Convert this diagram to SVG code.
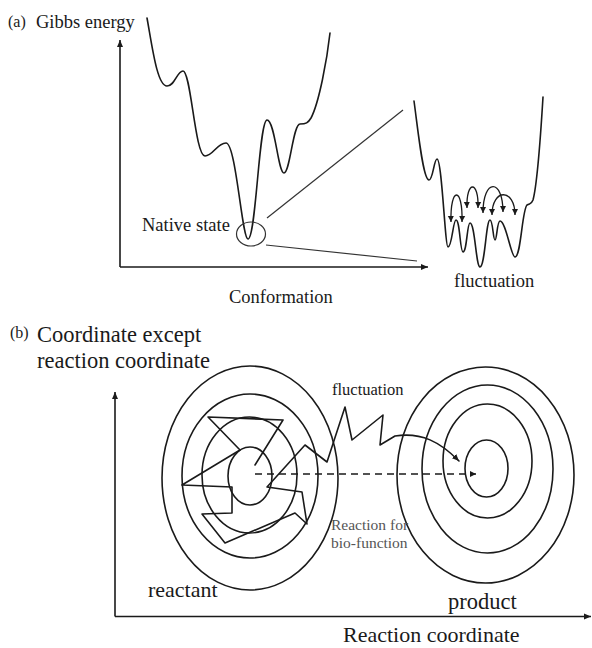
<svg xmlns="http://www.w3.org/2000/svg" width="592" height="648" viewBox="0 0 592 648">
<style>
.ln{fill:none;stroke:#1a1a1a;stroke-width:1.6;stroke-linejoin:round;stroke-linecap:round}
.thin{fill:none;stroke:#333;stroke-width:1.2}
.ax{fill:none;stroke:#1a1a1a;stroke-width:1.6}
.t{font-family:"Liberation Serif","Times New Roman",serif;fill:#1a1a1a}
.g{fill:#555}
</style>
<defs>
<marker id="ah" markerWidth="8" markerHeight="8" refX="7" refY="4" orient="auto" markerUnits="userSpaceOnUse"><path d="M0,1 L7,4 L0,7 Z" fill="#1a1a1a"/></marker>
<marker id="sh" markerWidth="7" markerHeight="7" refX="6" refY="3.5" orient="auto-start-reverse" markerUnits="userSpaceOnUse"><path d="M0,0.5 L6,3.5 L0,6.5 Z" fill="#1a1a1a"/></marker>
</defs>

<g id="panel-a" font-family="'Liberation Serif','Times New Roman',serif">
<text class="t" x="8" y="27" font-size="16">(a)</text>
<text class="t" x="36" y="28" font-size="18.5">Gibbs energy</text>
<g id="axes-a">
<line class="ax" x1="120" y1="267" x2="120" y2="40" marker-end="url(#ah)"/>
<line class="ax" x1="120" y1="267" x2="428" y2="267" marker-end="url(#ah)"/>
</g>
<path id="landscape" class="ln" d="M147,18 C152,45 157,86 167,86 C175,86 177,71 183,71 C191,71 195,156 205,156 C213,156 217,143 226,143 C236,143 242,239 248,239 C256,239 259,120 267,120 C275,120 278,173 284,173 C290,173 293,124 300,124 C306,124 308,123 311,118 C319,103 327,60 330,33"/>
<g id="native-state">
<ellipse class="thin" cx="251" cy="234" rx="14.5" ry="12"/>
<text class="t" x="142" y="231" font-size="18.5">Native state</text>
</g>
<g id="zoom-lines">
<line class="thin" x1="267" y1="218" x2="403" y2="110"/>
<line class="thin" x1="266" y1="245" x2="417" y2="261"/>
</g>
<text class="t" x="229" y="303" font-size="18.5">Conformation</text>
<path id="fluct-landscape" class="ln" d="M414,101 C418,130 423,180 429,180 C433,180 434,159 437,159 C442,159 445,247 448,247 C452,247 453,220 456,220 C460,220 460,252 463,252 C467,252 467,223 470,223 C475,223 476,267 480,267 C485,267 486,220 490,220 C493,220 493,240 495,240 C497,240 497,221 500,221 C506,221 511,257 515,257 C521,257 522,210 527,205 C530,203 531,205 533,200 C537,185 541,130 543,97"/>
<g id="fluct-arcs" fill="none" stroke="#1a1a1a" stroke-width="1.3">
<path d="M451,222 C450,186 463,186 462,222" marker-start="url(#sh)" marker-end="url(#sh)"/>
<path d="M467,208 C466,180 479,180 478,208" marker-start="url(#sh)" marker-end="url(#sh)"/>
<path d="M483,213 C483,178 503,178 503,212" marker-start="url(#sh)" marker-end="url(#sh)"/>
<path d="M492,215 C492,188 515,188 515,215" marker-start="url(#sh)" marker-end="url(#sh)"/>
</g>
<text class="t" x="454" y="287" font-size="18.5">fluctuation</text>
</g>

<g id="panel-b" font-family="'Liberation Serif','Times New Roman',serif">
<text class="t" x="10" y="338" font-size="16">(b)</text>
<text class="t" x="37" y="342" font-size="22.5">Coordinate except</text>
<text class="t" x="37" y="368" font-size="22.5">reaction coordinate</text>
<g id="axes-b">
<line class="ax" x1="115" y1="616.5" x2="115" y2="392" marker-end="url(#ah)"/>
<line class="ax" x1="115" y1="616.5" x2="591" y2="616.5" marker-end="url(#ah)"/>
</g>
<g id="reactant">
<ellipse class="ln" cx="250" cy="478" rx="88" ry="112"/>
<ellipse class="ln" cx="250" cy="476" rx="68" ry="82"/>
<ellipse class="ln" cx="249.5" cy="475" rx="47.5" ry="58"/>
<ellipse class="ln" cx="250" cy="476" rx="22" ry="29"/>
<text class="t" x="148" y="597" font-size="22">reactant</text>
</g>
<g id="product">
<ellipse class="ln" cx="485.5" cy="475" rx="88.5" ry="108"/>
<ellipse class="ln" cx="487.5" cy="469" rx="65.5" ry="84"/>
<ellipse class="ln" cx="487.5" cy="461" rx="44.5" ry="57"/>
<ellipse class="ln" cx="486.5" cy="468.5" rx="21.5" ry="28.5"/>
<text class="t" x="448" y="609" font-size="22.5">product</text>
</g>
<g id="connectors">
<line x1="255" y1="474" x2="476" y2="474" stroke="#1a1a1a" stroke-width="1.6" stroke-dasharray="7,5" marker-end="url(#sh)"/>
<path class="ln" d="M255,465 L283,420 L208,417 L240,450 L182,485 L232,487 L232,513 L202,514 L225,543 L295,513 L307,524 L302,492 L267,487 L305,445 L327,462 L345,407 L352,440 L383,415 L380,445 L395,436 C422,432 440,442 459,461" marker-end="url(#ah)"/>
</g>
<text class="t" x="332" y="395" font-size="16.5">fluctuation</text>
<text class="t g" x="331" y="530" font-size="15.5">Reaction for</text>
<text class="t g" x="331" y="548" font-size="15.5">bio-function</text>
<text class="t" x="343" y="642" font-size="22">Reaction coordinate</text>
</g>
</svg>
